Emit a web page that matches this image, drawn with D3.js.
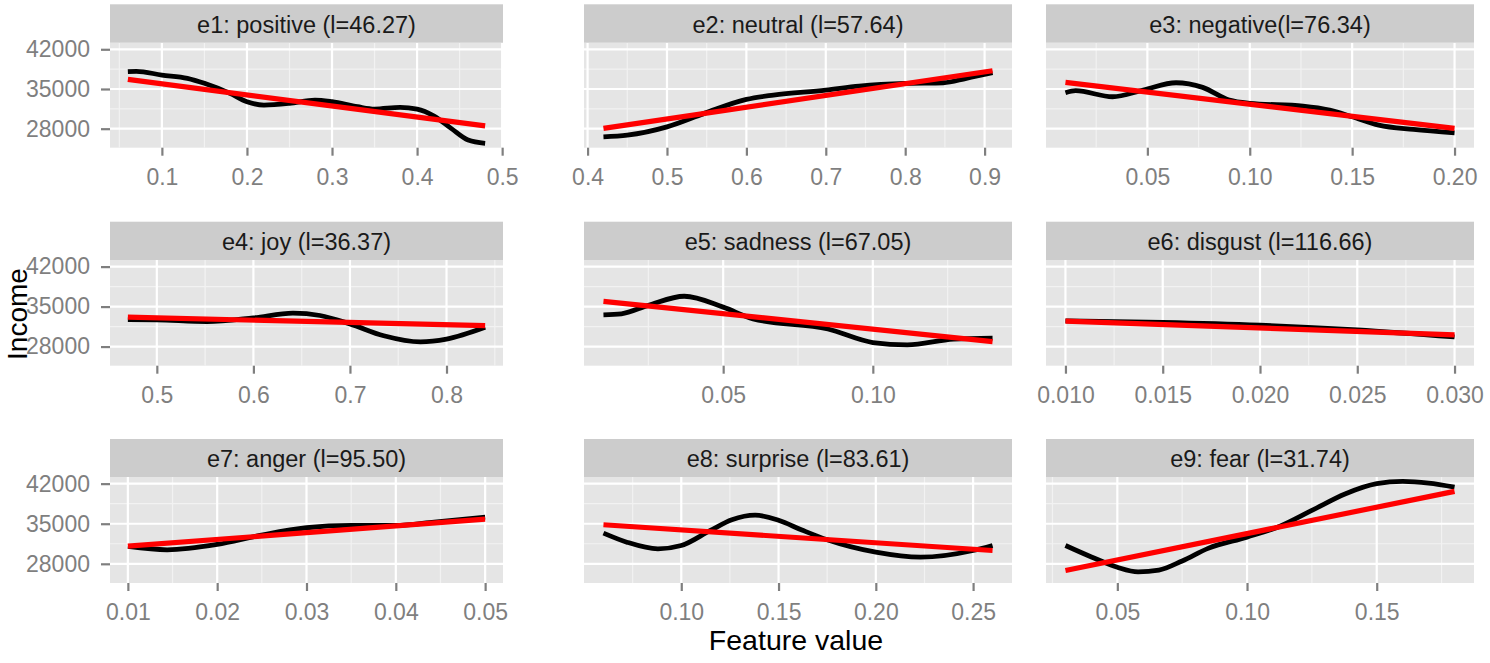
<!DOCTYPE html>
<html>
<head>
<meta charset="utf-8">
<script src="https://cdn.jsdelivr.net/npm/d3@7"></script>
<style>
  body { margin: 0; background: #fff; }
  svg { display: block; font-family: "Liberation Sans", Arial, Helvetica, sans-serif; }
</style>
</head>
<body>
<svg id="chart" width="1490" height="663"></svg>
<script>
// facet titles
const titles = [
  "e1: positive (l=46.27)", "e2: neutral (l=57.64)", "e3: negative(l=76.34)",
  "e4: joy (l=36.37)", "e5: sadness (l=67.05)", "e6: disgust (l=116.66)",
  "e7: anger (l=95.50)", "e8: surprise (l=83.61)", "e9: fear (l=31.74)"
];

// shared y axis
const yTicks = [28000, 35000, 42000];
const yMinor = [31500, 38500];
const yDomain = [24650, 43160];

// x ticks per panel
const xTicks = [
  [0.1, 0.2, 0.3, 0.4, 0.5],
  [0.4, 0.5, 0.6, 0.7, 0.8, 0.9],
  [0.05, 0.10, 0.15, 0.20],
  [0.5, 0.6, 0.7, 0.8],
  [0.05, 0.10],
  [0.010, 0.015, 0.020, 0.025, 0.030],
  [0.01, 0.02, 0.03, 0.04, 0.05],
  [0.10, 0.15, 0.20, 0.25],
  [0.05, 0.10, 0.15]
];
const xTickLabels = [
  ["0.1", "0.2", "0.3", "0.4", "0.5"],
  ["0.4", "0.5", "0.6", "0.7", "0.8", "0.9"],
  ["0.05", "0.10", "0.15", "0.20"],
  ["0.5", "0.6", "0.7", "0.8"],
  ["0.05", "0.10"],
  ["0.010", "0.015", "0.020", "0.025", "0.030"],
  ["0.01", "0.02", "0.03", "0.04", "0.05"],
  ["0.10", "0.15", "0.20", "0.25"],
  ["0.05", "0.10", "0.15"]
];

// smoothed income curves (black), [feature value, income]
const e1Smooth = [[0.06, 38050], [0.07, 38100], [0.10, 37460], [0.13, 36880], [0.15, 36000], [0.18, 34230], [0.20, 32750], [0.22, 32170], [0.25, 32470], [0.28, 33050], [0.30, 32750], [0.33, 31870], [0.35, 31460], [0.38, 31760], [0.40, 31460], [0.42, 30220], [0.44, 28050], [0.46, 25990], [0.48, 25400]];
const e2Smooth = [[0.42, 26570], [0.45, 26870], [0.50, 28330], [0.547, 30700], [0.60, 33170], [0.634, 33930], [0.70, 34810], [0.742, 35520], [0.80, 36000], [0.848, 36100], [0.877, 36880], [0.91, 37870]];
const e3Smooth = [[0.01, 34340], [0.015, 34700], [0.033, 33630], [0.048, 34810], [0.064, 36100], [0.077, 35290], [0.090, 33050], [0.10, 32470], [0.126, 31990], [0.139, 31280], [0.15, 30100], [0.163, 28630], [0.18, 27870], [0.20, 27270]];
const e4Smooth = [[0.47, 32730], [0.50, 32680], [0.552, 32380], [0.60, 33030], [0.641, 33850], [0.669, 33440], [0.70, 31970], [0.735, 29900], [0.773, 28830], [0.80, 29310], [0.84, 31370]];
const e5Smooth = [[0.01, 33560], [0.016, 33740], [0.025, 35210], [0.037, 36810], [0.05, 34910], [0.060, 32850], [0.085, 31080], [0.10, 28710], [0.1115, 28300], [0.127, 29310], [0.14, 29490]];
const e6Smooth = [[0.010, 32500], [0.015, 32250], [0.020, 31750], [0.025, 30900], [0.030, 29700]];
const e7Smooth = [[0.01, 31030], [0.0144, 30450], [0.02, 31380], [0.0248, 32950], [0.03, 34300], [0.035, 34700], [0.04, 34700], [0.0443, 35280], [0.05, 36160]];
const e8Smooth = [[0.06, 33360], [0.072, 31780], [0.088, 30620], [0.10, 31200], [0.115, 33830], [0.126, 35700], [0.138, 36500], [0.15, 35600], [0.162, 33900], [0.175, 32200], [0.20, 30030], [0.223, 29160], [0.25, 30330], [0.26, 31200]];
const e9Smooth = [[0.03, 31200], [0.04, 29200], [0.05, 27400], [0.058, 26600], [0.066, 26900], [0.075, 28500], [0.085, 30700], [0.10, 32660], [0.1125, 34530], [0.125, 37330], [0.138, 40250], [0.15, 42000], [0.16, 42400], [0.17, 42110], [0.18, 41410]];

// linear fits (red), endpoints
const e1Fit = [[0.06, 36700], [0.48, 28500]];
const e2Fit = [[0.42, 28050], [0.91, 38220]];
const e3Fit = [[0.01, 36170], [0.20, 28050]];
const e4Fit = [[0.47, 33140], [0.84, 31670]];
const e5Fit = [[0.01, 35920], [0.14, 28880]];
const e6Fit = [[0.010, 32450], [0.030, 30050]];
const e7Fit = [[0.01, 31080], [0.05, 35800]];
const e8Fit = [[0.06, 34820], [0.26, 30330]];
const e9Fit = [[0.03, 26830], [0.18, 40650]];

const smooths = [e1Smooth, e2Smooth, e3Smooth, e4Smooth, e5Smooth, e6Smooth, e7Smooth, e8Smooth, e9Smooth];
const fits = [e1Fit, e2Fit, e3Fit, e4Fit, e5Fit, e6Fit, e7Fit, e8Fit, e9Fit];

// layout
const cols = [[110, 503], [584, 1012], [1046, 1474]];
const rows = [[4.3, 42.7, 147.7], [221.7, 260, 365.7], [439, 477, 583]];
const grey = "#7f7f7f";

const svg = d3.select("#chart");

titles.forEach((title, i) => {
  const c = cols[i % 3];
  const r = rows[Math.floor(i / 3)];
  const g = svg.append("g");

  const ext = d3.extent(smooths[i], d => d[0]);
  const pad = (ext[1] - ext[0]) * 0.05;
  const x = d3.scaleLinear().domain([ext[0] - pad, ext[1] + pad]).range(c);
  const y = d3.scaleLinear().domain(yDomain).range([r[2], r[1]]);

  // panel background
  g.append("rect")
    .attr("x", c[0]).attr("y", r[1])
    .attr("width", c[1] - c[0]).attr("height", r[2] - r[1])
    .attr("fill", "#e5e5e5");

  // minor grid
  const tk = xTicks[i];
  const step = tk[1] - tk[0];
  const xMinor = [tk[0] - step / 2].concat(tk.map(t => t + step / 2))
    .filter(v => v > x.domain()[0] && v < x.domain()[1]);
  g.selectAll(".xminor").data(xMinor).enter().append("line")
    .attr("x1", d => x(d)).attr("x2", d => x(d))
    .attr("y1", r[1]).attr("y2", r[2])
    .attr("stroke", "#f2f2f2").attr("stroke-width", 1.2);
  g.selectAll(".yminor").data(yMinor).enter().append("line")
    .attr("x1", c[0]).attr("x2", c[1])
    .attr("y1", d => y(d)).attr("y2", d => y(d))
    .attr("stroke", "#f2f2f2").attr("stroke-width", 1.2);

  // major grid
  g.selectAll(".xmajor").data(tk).enter().append("line")
    .attr("x1", d => x(d)).attr("x2", d => x(d))
    .attr("y1", r[1]).attr("y2", r[2])
    .attr("stroke", "#fff").attr("stroke-width", 2.2);
  g.selectAll(".ymajor").data(yTicks).enter().append("line")
    .attr("x1", c[0]).attr("x2", c[1])
    .attr("y1", d => y(d)).attr("y2", d => y(d))
    .attr("stroke", "#fff").attr("stroke-width", 2.2);

  // strip
  g.append("rect")
    .attr("x", c[0]).attr("y", r[0])
    .attr("width", c[1] - c[0]).attr("height", r[1] - r[0])
    .attr("fill", "#cccccc");
  g.append("text")
    .attr("x", (c[0] + c[1]) / 2)
    .attr("y", (r[0] + r[1]) / 2 + 9)
    .attr("text-anchor", "middle")
    .attr("font-size", 23.5)
    .attr("fill", "#1a1a1a")
    .text(title);

  // curves
  g.append("path")
    .datum(smooths[i])
    .attr("d", d3.line().curve(d3.curveMonotoneX).x(d => x(d[0])).y(d => y(d[1])))
    .attr("fill", "none").attr("stroke", "#000").attr("stroke-width", 4.8);
  g.append("path")
    .datum(fits[i])
    .attr("d", d3.line().x(d => x(d[0])).y(d => y(d[1])))
    .attr("fill", "none").attr("stroke", "#ff0000").attr("stroke-width", 5.2);

  // x axis
  const xa = g.append("g")
    .attr("transform", `translate(0,${r[2]})`)
    .call(d3.axisBottom(x).tickValues(tk)
      .tickFormat((d, j) => xTickLabels[i][j])
      .tickSize(8).tickPadding(13));
  xa.select(".domain").remove();
  xa.selectAll("line").attr("stroke", grey).attr("stroke-width", 2.2);
  xa.selectAll("text").attr("fill", grey).attr("font-size", 23)
    .attr("font-family", null);

  // y axis on first column only
  if (i % 3 === 0) {
    const ya = g.append("g")
      .attr("transform", `translate(${c[0]},0)`)
      .call(d3.axisLeft(y).tickValues(yTicks).tickFormat(d3.format("d"))
        .tickSize(9).tickPadding(11));
    ya.select(".domain").remove();
    ya.selectAll("line").attr("stroke", grey).attr("stroke-width", 2.2);
    ya.selectAll("text").attr("fill", grey).attr("font-size", 23)
      .attr("font-family", null);
  }
});

// axis titles
svg.append("text")
  .attr("transform", "translate(27,314) rotate(-90)")
  .attr("text-anchor", "middle")
  .attr("font-size", 28)
  .attr("fill", "#000")
  .text("Income");

svg.append("text")
  .attr("x", 796).attr("y", 650)
  .attr("text-anchor", "middle")
  .attr("font-size", 28.5)
  .attr("fill", "#000")
  .text("Feature value");
</script>
</body>
</html>
